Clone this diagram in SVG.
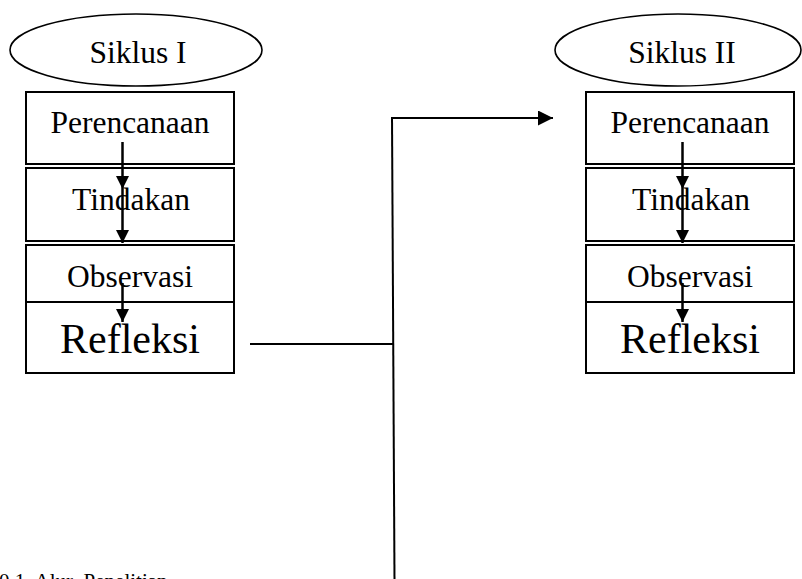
<svg xmlns="http://www.w3.org/2000/svg" width="802" height="579" viewBox="0 0 802 579">
<style>
  .box { fill: #ffffff; stroke: #000; stroke-width: 2; }
  .ell { fill: #ffffff; stroke: #000; stroke-width: 1.6; }
  .t { font-family: "Liberation Serif", "Times New Roman", serif; fill: #000; text-anchor: middle; }
  .m { font-size: 31.5px; }
  .big { font-size: 42px; }
  .arr { stroke: #000; stroke-width: 2.5; fill: none; marker-end: url(#ah); }
  .con { stroke: #000; stroke-width: 2; fill: none; }
</style>
<defs>
  <marker id="ah" viewBox="0 0 10 10" refX="10" refY="5" markerWidth="5.2" markerHeight="5.2" markerUnits="strokeWidth" orient="auto">
    <path d="M0,0 L10,5 L0,10 Z" fill="#000"/>
  </marker>
  <marker id="ah2" viewBox="0 0 10 10" refX="10" refY="5" markerWidth="7.5" markerHeight="7.5" markerUnits="strokeWidth" orient="auto">
    <path d="M0,0 L10,5 L0,10 Z" fill="#000"/>
  </marker>
</defs>

<g id="siklus1">
  <ellipse class="ell" cx="136" cy="50" rx="126" ry="36"/>
  <text class="t m" x="138" y="63">Siklus I</text>
</g>
<g id="perencanaan1">
  <rect class="box" x="26" y="92" width="208" height="72"/>
  <text class="t m" x="130" y="133">Perencanaan</text>
</g>
<g id="tindakan1">
  <rect class="box" x="26" y="168" width="208" height="73"/>
  <text class="t m" x="131" y="210">Tindakan</text>
</g>
<g id="observasi1">
  <rect class="box" x="26" y="245" width="208" height="57"/>
  <text class="t m" x="130" y="287">Observasi</text>
</g>
<g id="refleksi1">
  <rect class="box" x="26" y="302" width="208" height="71"/>
  <text class="t big" x="130" y="353">Refleksi</text>
</g>

<g id="siklus2">
  <ellipse class="ell" cx="678" cy="50" rx="123" ry="36"/>
  <text class="t m" x="682" y="63">Siklus II</text>
</g>
<g id="perencanaan2">
  <rect class="box" x="586" y="92" width="208" height="72"/>
  <text class="t m" x="690" y="133">Perencanaan</text>
</g>
<g id="tindakan2">
  <rect class="box" x="586" y="168" width="208" height="73"/>
  <text class="t m" x="691" y="210">Tindakan</text>
</g>
<g id="observasi2">
  <rect class="box" x="586" y="245" width="208" height="57"/>
  <text class="t m" x="690" y="287">Observasi</text>
</g>
<g id="refleksi2">
  <rect class="box" x="586" y="302" width="208" height="71"/>
  <text class="t big" x="690" y="353">Refleksi</text>
</g>

<g id="connectors">
  <line class="arr" x1="122.5" y1="142" x2="122.5" y2="189"/>
  <line class="arr" x1="122.5" y1="189" x2="122.5" y2="243"/>
  <line class="arr" x1="122.5" y1="283" x2="122.5" y2="322"/>
  <line class="arr" x1="682.5" y1="142" x2="682.5" y2="189"/>
  <line class="arr" x1="682.5" y1="189" x2="682.5" y2="243"/>
  <line class="arr" x1="682.5" y1="283" x2="682.5" y2="322"/>
  <line class="con" x1="250" y1="344" x2="393" y2="344"/>
  <line class="con" x1="392" y1="117" x2="394.5" y2="580"/>
  <line class="con" x1="392" y1="118" x2="553" y2="118" style="marker-end:url(#ah2)"/>
</g>

<text x="-1" y="588" font-family="Liberation Serif, serif" font-size="21" fill="#000" xml:space="preserve">0.1  Alur  Penelitian</text>
</svg>
